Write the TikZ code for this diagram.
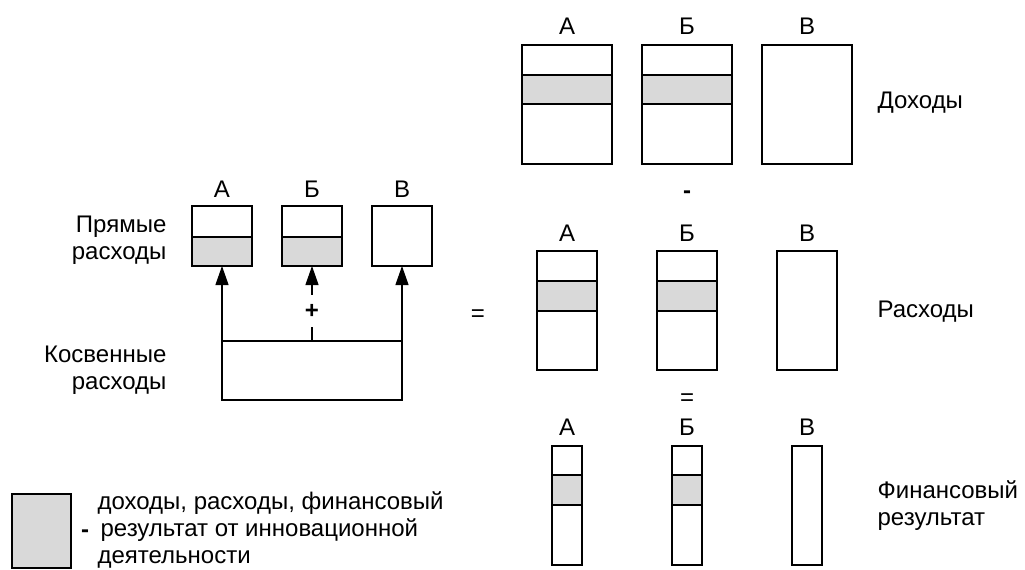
\documentclass[tikz,border=0pt]{standalone}
\usepackage{fontspec}
\setmainfont{Liberation Sans}
\usetikzlibrary{arrows.meta,positioning}
\definecolor{seryj}{HTML}{D9D9D9}

\begin{document}
\begin{tikzpicture}[x=1pt, y=-1pt, line width=1.2pt,
  font=\fontsize{24}{27}\selectfont,
  korobka/.style={draw, fill=white, inner sep=0pt, outer sep=0pt},
  polosa/.style={draw, fill=seryj, inner sep=0pt, outer sep=0pt},
  bukva/.style={inner sep=0pt},
  znak/.style={inner sep=0pt, anchor=base},
  tire/.style={znak, font=\fontsize{24}{27}\selectfont\bfseries},
  podpis/.style={inner sep=0pt, align=left, anchor=west},
  strelka/.style={-{Triangle[length=19pt, width=13pt]}}]
  \useasboundingbox (0,0) rectangle (1025,570);

  % --- Доходы ---
  \foreach \n/\x/\t in {a/567/А, b/687/Б, v/807/В} {
    \node[korobka, minimum width=90pt, minimum height=119pt] (doh-\n) at (\x,104.5) {};
    \node[bukva, above=10pt of doh-\n] (bd-\n) {\t};
  }
  \foreach \n/\x in {a/567, b/687}
    \node[polosa, minimum width=90pt, minimum height=29pt] (doh-p\n) at (\x,89.5) {};
  \node[podpis] (doh) at (877,103) {Доходы};
  \node[tire] (minus) at (687,198) {-};

  % --- Расходы ---
  \foreach \n/\x/\t in {a/567/А, b/687/Б, v/807/В} {
    \node[korobka, minimum width=60pt, minimum height=119pt] (ras-\n) at (\x,310.5) {};
    \node[bukva, above=9pt of ras-\n] (br-\n) {\t};
  }
  \foreach \n/\x in {a/567, b/687}
    \node[polosa, minimum width=60pt, minimum height=30pt] (ras-p\n) at (\x,296) {};
  \node[podpis] (ras) at (877,312) {Расходы};
  \node[znak] (ravno) at (687,405) {=};

  % --- Финансовый результат ---
  \foreach \n/\x/\t in {a/567/А, b/687/Б, v/807/В} {
    \node[korobka, minimum width=30pt, minimum height=119pt] (fin-\n) at (\x,505.5) {};
    \node[bukva, above=10pt of fin-\n] (bf-\n) {\t};
  }
  \foreach \n/\x in {a/567, b/687}
    \node[polosa, minimum width=30pt, minimum height=30pt] (fin-p\n) at (\x,490) {};
  \node[podpis] (fin) at (877,506) {Финансовый\\результат};

  % --- прямые и косвенные расходы ---
  \foreach \n/\x/\t in {a/222/А, b/312/Б, v/402/В} {
    \node[korobka, minimum width=60pt, minimum height=60pt] (prm-\n) at (\x,236) {};
    \node[bukva, above=8pt of prm-\n] (bp-\n) {\t};
  }
  \foreach \n/\x in {a/222, b/312}
    \node[polosa, minimum width=60pt, minimum height=29pt] (prm-p\n) at (\x,251.5) {};
  \node[korobka, minimum width=180pt, minimum height=59pt] (kosv) at (312,370.5) {};
  \draw[strelka] (kosv.north west) -- (prm-a.south);
  \draw[strelka] (kosv.north) -- node[pos=0.4, fill=white, inner xsep=2pt, inner ysep=9pt,
    font=\fontsize{24}{27}\selectfont\bfseries] (plus) {+} (prm-b.south);
  \draw[strelka] (kosv.north east) -- (prm-v.south);
  \node[podpis, anchor=east, align=right] (pryam) at (167,240) {Прямые\\расходы};
  \node[podpis, anchor=east, align=right] (kosv-txt) at (167,370) {Косвенные\\расходы};
  \node[znak] (ravno-l) at (478,321) {=};

  % --- легенда ---
  \node[polosa, minimum width=59pt, minimum height=74pt] (leg) at (41.5,531) {};
  \node[tire] (leg-tire) at (85,537.5) {-};
  \node[podpis] (leg-txt) at (97,530)
    {доходы, расходы, финансовый\\\hspace{3pt}результат от инновационной\\деятельности};
\end{tikzpicture}
\end{document}
